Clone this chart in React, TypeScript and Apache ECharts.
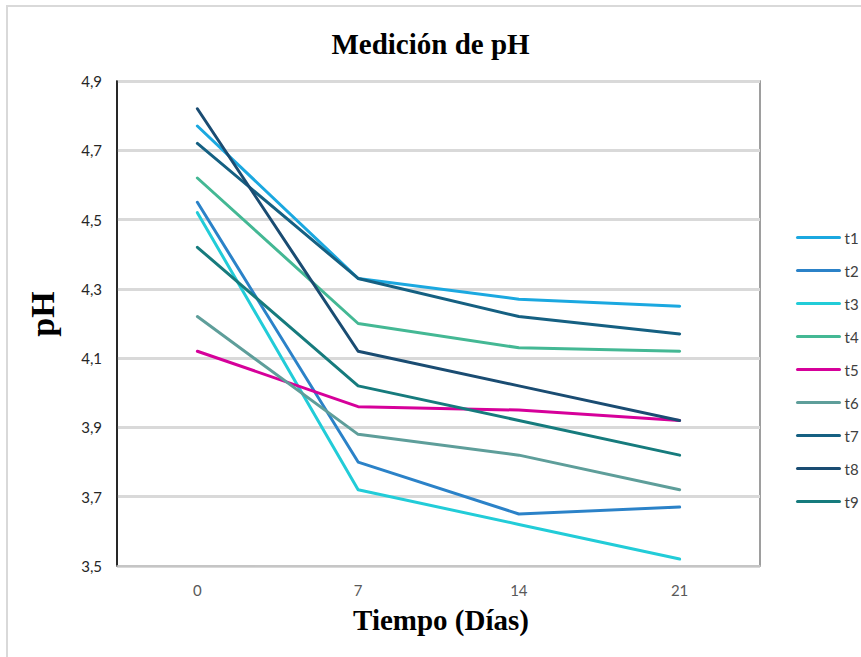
import React, { useEffect, useRef } from "react";
import * as echarts from "echarts";

// Días de medición
const days = ["0", "7", "14", "21"];

// pH por tratamiento
const t1 = [4.77, 4.33, 4.27, 4.25];
const t2 = [4.55, 3.8, 3.65, 3.67];
const t3 = [4.52, 3.72, 3.62, 3.52];
const t4 = [4.62, 4.2, 4.13, 4.12];
const t5 = [4.12, 3.96, 3.95, 3.92];
const t6 = [4.22, 3.88, 3.82, 3.72];
const t7 = [4.72, 4.33, 4.22, 4.17];
const t8 = [4.82, 4.12, 4.02, 3.92];
const t9 = [4.42, 4.02, 3.92, 3.82];

const seriesNames = ["t1", "t2", "t3", "t4", "t5", "t6", "t7", "t8", "t9"];
const seriesValues = [t1, t2, t3, t4, t5, t6, t7, t8, t9];
const seriesColors = [
  "#1BA8E0",
  "#2B82C8",
  "#22CCD8",
  "#44B894",
  "#D6009A",
  "#5E9E9A",
  "#156082",
  "#1A4C72",
  "#167B7D",
];

const tickFont = "Lato, 'DejaVu Sans', sans-serif";
const titleFont = "'Liberation Serif', 'DejaVu Serif', serif";

export default function App() {
  const ref = useRef<HTMLDivElement>(null);

  useEffect(() => {
    if (!ref.current) return;
    const chart = echarts.init(ref.current, undefined, { renderer: "svg" });
    chart.setOption({
      animation: false,
      backgroundColor: "#ffffff",
      title: {
        text: "Medición de pH",
        left: "center",
        top: 24,
        textStyle: {
          fontFamily: titleFont,
          fontWeight: "bold",
          fontSize: 29,
          color: "#000000",
        },
      },
      graphic: [
        {
          type: "rect",
          shape: { x: 7, y: 6, width: 900, height: 700 },
          style: { fill: "none", stroke: "#d9d9d9", lineWidth: 2 },
          silent: true,
        },
        {
          // título del eje X
          type: "text",
          x: 441,
          y: 620,
          style: {
            text: "Tiempo (Días)",
            fontFamily: titleFont,
            fontWeight: "bold",
            fontSize: 29,
            fill: "#000000",
            align: "center",
            verticalAlign: "middle",
          },
        },
        {
          // título del eje Y
          type: "text",
          x: 42,
          y: 314,
          rotation: Math.PI / 2,
          style: {
            text: "pH",
            fontFamily: titleFont,
            fontWeight: "bold",
            fontSize: 34,
            fill: "#000000",
            align: "center",
            verticalAlign: "middle",
          },
        },
      ],
      legend: {
        orient: "vertical",
        left: 791,
        top: 225,
        itemWidth: 42,
        itemHeight: 14,
        itemGap: 18,
        itemStyle: { opacity: 0 },
        lineStyle: { width: 3 },
        textStyle: { fontFamily: tickFont, fontSize: 15, color: "#404040" },
        data: seriesNames,
      },
      grid: {
        left: 117,
        top: 81,
        right: 101,
        bottom: 91,
        show: true,
        borderColor: "#7f7f7f",
        borderWidth: 1.5,
      },
      xAxis: {
        type: "category",
        data: days,
        boundaryGap: true,
        axisLine: { show: true, lineStyle: { color: "#bfbfbf", width: 1.5 } },
        axisTick: { show: false },
        axisLabel: {
          fontFamily: tickFont,
          fontSize: 15,
          color: "#595959",
          margin: 16,
        },
        splitLine: { show: false },
      },
      yAxis: {
        type: "value",
        min: 3.5,
        max: 4.9,
        interval: 0.2,
        axisLine: { show: true, lineStyle: { color: "#000000", width: 1.5 } },
        axisTick: { show: false },
        axisLabel: {
          fontFamily: tickFont,
          fontSize: 15,
          color: "#262626",
          margin: 15,
          formatter: (v: number) => v.toFixed(1).replace(".", ","),
        },
        splitLine: { show: true, lineStyle: { color: "#d9d9d9", width: 3 } },
      },
      series: seriesNames.map((name, i) => ({
        name,
        type: "line",
        data: seriesValues[i],
        symbol: "none",
        color: seriesColors[i],
        lineStyle: { width: 3, color: seriesColors[i], cap: "round", join: "round" },
      })),
    });
    return () => chart.dispose();
  }, []);

  return (
    <div
      ref={ref}
      style={{ position: "fixed", left: 0, top: 0, width: 861, height: 657 }}
    />
  );
}
